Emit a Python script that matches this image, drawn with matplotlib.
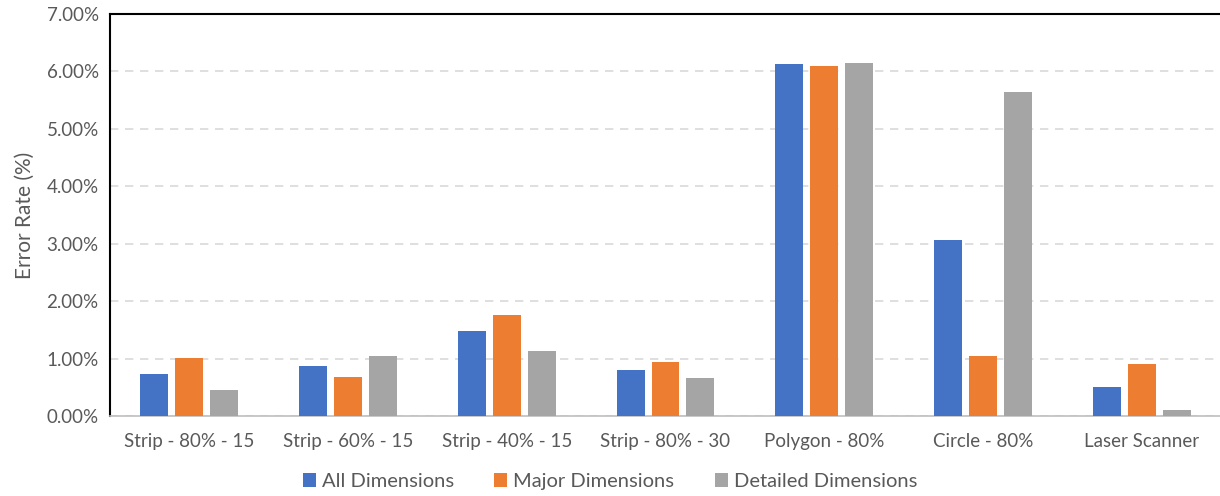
import numpy as np
import matplotlib.pyplot as plt
from matplotlib.ticker import PercentFormatter

plt.rcParams['font.family'] = ['Lato', 'DejaVu Sans']

categories = ['Strip - 80% - 15', 'Strip - 60% - 15', 'Strip - 40% - 15', 'Strip - 80% - 30',
              'Polygon - 80%', 'Circle - 80%', 'Laser Scanner']
all_dims = [0.73, 0.88, 1.48, 0.80, 6.13, 3.07, 0.50]
major_dims = [1.01, 0.68, 1.76, 0.95, 6.09, 1.04, 0.91]
detailed_dims = [0.45, 1.05, 1.13, 0.66, 6.15, 5.64, 0.10]

series = [('All Dimensions', all_dims, '#4472C4'),
          ('Major Dimensions', major_dims, '#ED7D31'),
          ('Detailed Dimensions', detailed_dims, '#A5A5A5')]

txt = '#595959'

fig = plt.figure(figsize=(12.2, 4.96), dpi=100)
ax = fig.add_axes([0.090, 0.161, 0.911, 0.811])

x = np.arange(len(categories))
step = 0.22
for i, (name, vals, col) in enumerate(series):
    ax.bar(x + (i - 1) * step, vals, width=0.176, color=col, label=name, zorder=3)

ax.set_xlim(-0.5, len(categories) - 0.5)
ax.set_ylim(0, 7)
ax.set_yticks(np.arange(0, 8, 1))
ax.yaxis.set_major_formatter(PercentFormatter(decimals=2))
ax.yaxis.grid(True, color='#D9D9D9', linestyle=(0, (5, 4)), linewidth=1.2, zorder=0)
ax.set_xticks(x)
ax.set_xticklabels(categories)
ax.tick_params(axis='both', length=0, labelsize=13.5, colors=txt, pad=8)
ax.tick_params(axis='x', pad=12)

ax.spines['right'].set_visible(False)
ax.spines['top'].set_color('black')
ax.spines['top'].set_linewidth(1.5)
ax.spines['left'].set_color('black')
ax.spines['left'].set_linewidth(1.5)
ax.spines['bottom'].set_color('#BFBFBF')
ax.spines['bottom'].set_linewidth(1.2)

ax.set_ylabel('Error Rate (%)', fontsize=15, color=txt, labelpad=8)

fig.legend(loc='lower center', bbox_to_anchor=(0.5, -0.025), ncol=3, frameon=False,
           fontsize=14.5, labelcolor=txt, handlelength=0.65, handleheight=0.65,
           handletextpad=0.3, columnspacing=2.0)

fig.savefig('out.png', dpi=100)
